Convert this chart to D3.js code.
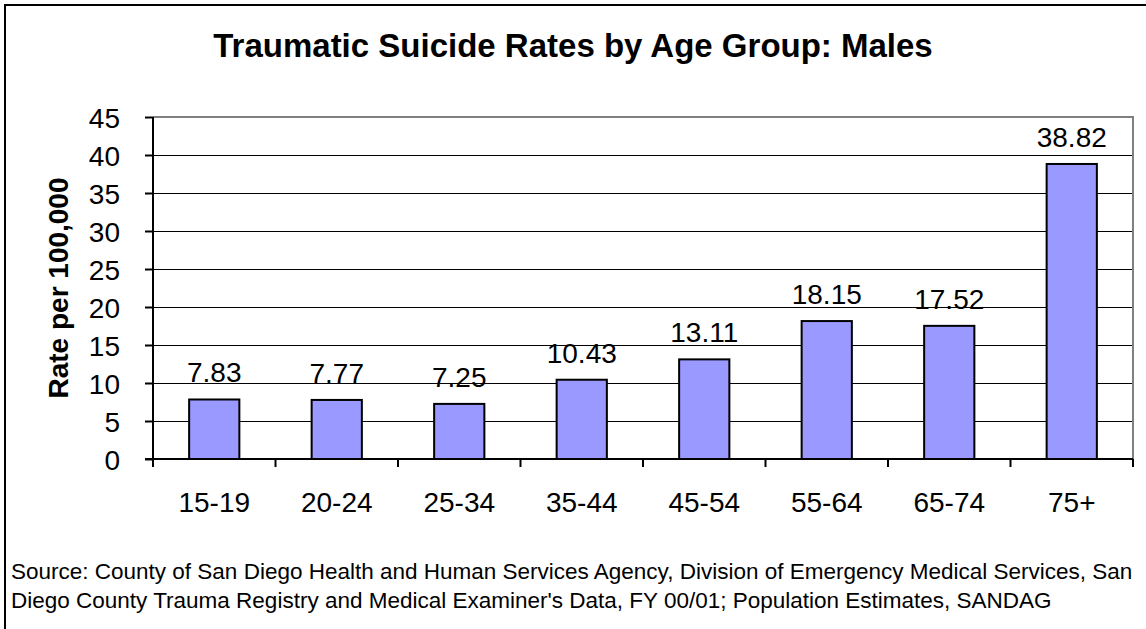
<!DOCTYPE html>
<html>
<head>
<meta charset="utf-8">
<script src="https://cdn.jsdelivr.net/npm/d3@7"></script>
<style>
  html, body { margin: 0; padding: 0; background: #fff; }
  svg { display: block; font-family: "Liberation Sans", Arial, sans-serif; }
</style>
</head>
<body>
<svg id="chart" width="1146" height="629"></svg>
<script>
const categories = ["15-19", "20-24", "25-34", "35-44", "45-54", "55-64", "65-74", "75+"];
const rates = [7.83, 7.77, 7.25, 10.43, 13.11, 18.15, 17.52, 38.82];
const yTicks = [0, 5, 10, 15, 20, 25, 30, 35, 40, 45];
const titleText = "Traumatic Suicide Rates by Age Group: Males";
const yTitle = "Rate per 100,000";
const sourceLines = [
  "Source: County of San Diego Health and Human Services Agency, Division of Emergency Medical Services, San",
  "Diego County Trauma Registry and Medical Examiner's Data, FY 00/01; Population Estimates, SANDAG"
];

const svg = d3.select("#chart");
const W = 1146, H = 629;
const plot = { left: 153, right: 1133, top: 117, bottom: 459 };

// outer frame (cropped at right and bottom)
svg.append("rect")
  .attr("x", 5).attr("y", 5).attr("width", W + 20).attr("height", H + 20)
  .attr("fill", "#fff").attr("stroke", "#000").attr("stroke-width", 2);

const x = d3.scaleBand().domain(categories).range([plot.left, plot.right]).paddingInner(0.59).paddingOuter(0.295);
const xb = d3.scaleBand().domain(categories).range([plot.left, plot.right]);
const y = d3.scaleLinear().domain([0, 45]).range([plot.bottom, plot.top]);

// gridlines
svg.append("g").selectAll("line").data(yTicks.filter(t => t > 0 && t < 45)).join("line")
  .attr("x1", plot.left).attr("x2", plot.right)
  .attr("y1", d => Math.round(y(d)) + 0.5).attr("y2", d => Math.round(y(d)) + 0.5)
  .attr("stroke", "#000").attr("stroke-width", 1);

// plot border top & right (gray)
svg.append("path")
  .attr("d", `M${plot.left},${plot.top}H${plot.right}V${plot.bottom}`)
  .attr("fill", "none").attr("stroke", "#808080").attr("stroke-width", 2);

// bars
svg.append("g").selectAll("rect").data(rates).join("rect")
  .attr("x", (d, i) => x(categories[i]))
  .attr("width", x.bandwidth())
  .attr("y", d => y(d))
  .attr("height", d => y(0) - y(d))
  .attr("fill", "#9999FF").attr("stroke", "#000").attr("stroke-width", 2);

// y axis
const yAxis = d3.axisLeft(y).tickValues(yTicks).tickSize(8).tickPadding(25).tickFormat(d3.format("d"));
const gy = svg.append("g").attr("transform", `translate(${plot.left},0)`).call(yAxis);
gy.select(".domain").attr("stroke", "#000").attr("stroke-width", 2).attr("d", `M-0,${plot.top}V${plot.bottom}`);
gy.selectAll(".tick line").attr("stroke", "#000").attr("stroke-width", 2);
gy.selectAll(".tick text").attr("font-size", 28).attr("fill", "#000").attr("dy", "0.36em")
  .attr("font-family", "Liberation Sans, Arial, sans-serif");

// x axis: ticks at band boundaries
const boundaries = categories.map(c => xb(c)).concat([plot.right]);
const gx = svg.append("g");
gx.append("line").attr("x1", plot.left - 8).attr("x2", plot.right)
  .attr("y1", plot.bottom).attr("y2", plot.bottom)
  .attr("stroke", "#000").attr("stroke-width", 2);
gx.selectAll("line.tk").data(boundaries).join("line").attr("class", "tk")
  .attr("x1", d => d).attr("x2", d => d)
  .attr("y1", plot.bottom).attr("y2", plot.bottom + 8)
  .attr("stroke", "#000").attr("stroke-width", 2);
gx.selectAll("text").data(categories).join("text")
  .attr("x", d => xb(d) + xb.bandwidth() / 2)
  .attr("y", 512)
  .attr("text-anchor", "middle")
  .attr("font-size", 28).attr("fill", "#000")
  .text(d => d);

// value labels
svg.append("g").selectAll("text").data(rates).join("text")
  .attr("x", (d, i) => xb(categories[i]) + xb.bandwidth() / 2)
  .attr("y", d => y(d) - 17)
  .attr("text-anchor", "middle")
  .attr("font-size", 28).attr("fill", "#000")
  .text(d => d.toFixed(2));

// title
svg.append("text")
  .attr("x", 573).attr("y", 57)
  .attr("text-anchor", "middle")
  .attr("font-size", 33).attr("font-weight", "bold")
  .text(titleText);

// y title
svg.append("text")
  .attr("transform", `translate(68,${(plot.top + plot.bottom) / 2}) rotate(-90)`)
  .attr("text-anchor", "middle")
  .attr("font-size", 28).attr("font-weight", "bold")
  .text(yTitle);

// source
svg.append("g").selectAll("text").data(sourceLines).join("text")
  .attr("x", 11)
  .attr("y", (d, i) => 579 + i * 29)
  .attr("font-size", 22.5)
  .text(d => d);
</script>
</body>
</html>
